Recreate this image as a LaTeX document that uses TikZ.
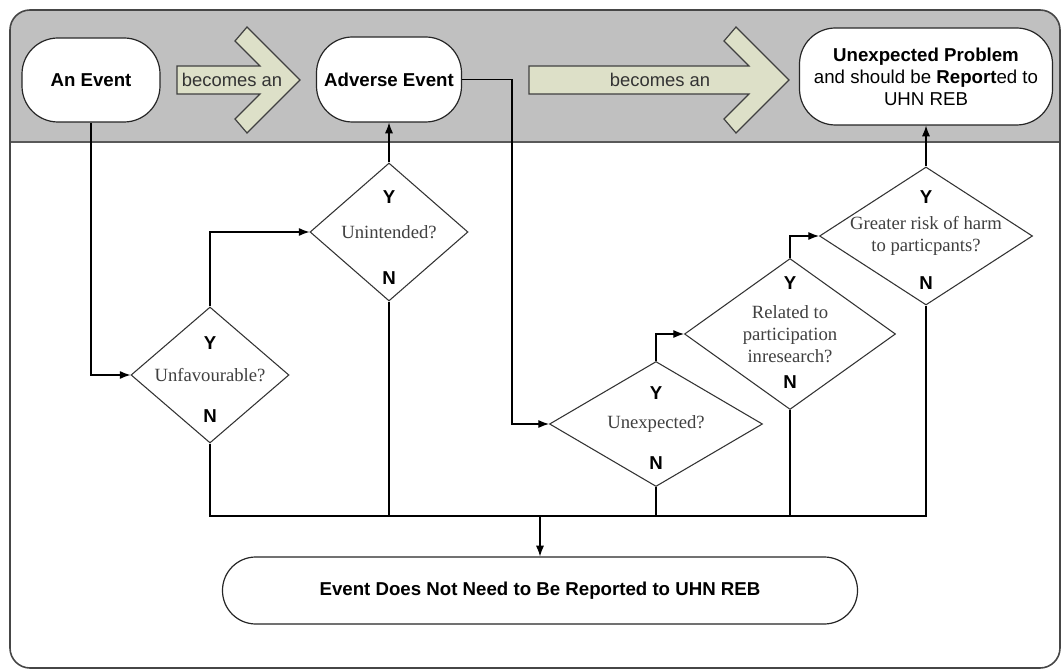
\documentclass[tikz,border=0pt]{standalone}
\usepackage{fontspec}
\setmainfont{Liberation Sans}
\newfontfamily\qfont{Liberation Serif}
\usepackage{tikz}
\usetikzlibrary{shapes.geometric, positioning, arrows.meta}

\definecolor{hdrgray}{RGB}{192,192,192}
\definecolor{arrowfill}{RGB}{221,224,200}
\definecolor{framegray}{RGB}{70,70,70}

\tikzset{
	terminal/.style={draw=black!85, fill=white, line width=0.9pt, rounded corners=27pt, inner sep=0pt, align=center, font=\bfseries\fontsize{14}{16.5}\selectfont},
	question/.style={shape=diamond, draw=black!80, fill=white, line width=0.8pt, inner sep=0pt, aspect=1.4, align=center, text=black!75, font=\qfont\fontsize{14}{16.5}\selectfont},
	yn/.style={font=\bfseries\fontsize{14}{16.5}\selectfont},
	becomes/.style={text=black!80, font=\fontsize{13.8}{16}\selectfont},
	arrowbody/.style={draw=black!75, fill=arrowfill, line width=0.9pt, line join=miter},
	conn/.style={draw, line width=0.8pt, -{Latex[length=8pt,width=6pt]}},
	bus/.style={draw, line width=0.8pt}
}

\begin{document}
\begin{tikzpicture}[x=0.75pt, y=-0.75pt]
	\useasboundingbox (0,0) rectangle (1063,670);
	
	% header band and frame
	\begin{scope}
		\clip[rounded corners=15pt] (10,10) rectangle (1060,668);
		\fill[hdrgray] (10,10) rectangle (1060,142);
	\end{scope}
	\draw[line width=1.5pt, draw=black!65] (10,142) -- (1060,142);
	\draw[line width=1.2pt, draw=framegray, rounded corners=15pt] (10,10) rectangle (1060,668);
	
	% "becomes an" arrows
	\foreach \l/\j in {177/260, 529/749}
	\draw[arrowbody] (\l,66) -- (\j,66) -- (\j-25,41) -- (\j-13,27) -- (\j+40,80) -- (\j-13,133) -- (\j-25,119) -- (\j,94) -- (\l,94) -- cycle;
	\node[becomes] (becA) at (232,80) {becomes an};
	\node[becomes] (becB) at (660,80) {becomes an};
	
	% terminals
	\node[terminal, minimum width=103.5pt, minimum height=63pt] (ev) at (91,80) {An Event};
	\node[terminal, minimum width=108.75pt, minimum height=63.75pt] (adv) at (389,79.5) {Adverse Event};
	\node[terminal, minimum width=189.75pt, minimum height=72.75pt] (prob) at (926,76.5)
		{Unexpected Problem\\ \mdseries and should be \bfseries Report\mdseries ed to\\ \mdseries UHN REB};
	\node[terminal, rounded corners=25pt, minimum width=476.25pt, minimum height=50.25pt] (notrep) at (540,590.5)
		{Event Does Not Need to Be Reported to UHN REB};
	
	% decisions
	\node[question, minimum width=118.5pt, minimum height=102pt] (q1) at (210,375) {Unfavourable?};
	\node[question, minimum width=118.5pt, minimum height=103.5pt] (q2) at (389,232) {Unintended?};
	\node[question, minimum width=159.75pt, minimum height=93.75pt] (q3) at (656,424) {Unexpected?};
	\node[question, minimum width=158.25pt, minimum height=113.25pt] (q4) at (790,334) {Related to\\ participation\\ inresearch?};
	\node[question, aspect=1.55, minimum width=159.75pt, minimum height=103.5pt] (q5) at (926,236) {Greater risk of harm\\ to particpants?};
	
	\node[yn] (q1y) at (210,343) {Y};
	\node[yn] (q1n) at (210,416) {N};
	\node[yn] (q2y) at (389,197) {Y};
	\node[yn] (q2n) at (389,278) {N};
	\node[yn] (q3y) at (656,393) {Y};
	\node[yn] (q3n) at (656,463) {N};
	\node[yn] (q4y) at (790,283) {Y};
	\node[yn] (q4n) at (790,382) {N};
	\node[yn] (q5y) at (926,197) {Y};
	\node[yn] (q5n) at (926,283) {N};
	
	% yes paths
	\coordinate (advbend) at (512,79.5);
	\draw[conn] (ev.south) |- (q1.west);
	\draw[conn] (q1.north) |- (q2.west);
	\draw[conn] (q2.north) -- (adv.south);
	\draw[conn] (adv.east) -- (advbend) |- (q3.west);
	\draw[conn] (q3.north) |- (q4.west);
	\draw[conn] (q4.north) |- (q5.west);
	\draw[conn] (q5.north) -- (prob.south);
	
	% no paths
	\coordinate (busL) at (210,516);
	\coordinate (busR) at (926,516);
	\draw[bus] (q1.south) -- (busL) -- (busR) -- (q5.south);
	\foreach \q in {q2,q3,q4}
	\draw[bus] (\q.south) -- (\q.south |- busL);
	\draw[conn] (notrep.north |- busL) -- (notrep.north);
\end{tikzpicture}
\end{document}
